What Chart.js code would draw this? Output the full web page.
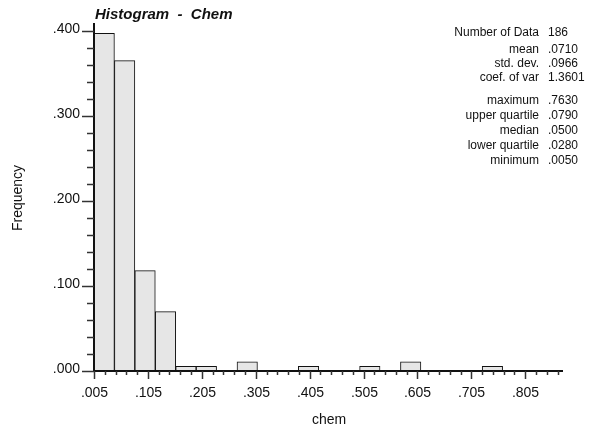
<!DOCTYPE html>
<html>
<head>
<meta charset="utf-8">
<script src="https://cdn.jsdelivr.net/npm/chart.js@4"></script>
<style>
    body { margin: 0; background: #ffffff; }
    canvas { display: block; }
</style>
</head>
<body>
<canvas id="hist" width="597" height="428"></canvas>
<script>
// histogram data: counts per bin (20 bins between min and max)
const dataMin = 0.005;
const dataMax = 0.763;
const nData = 186;
const counts = [74, 68, 22, 13, 1, 1, 0, 2, 0, 0, 1, 0, 0, 1, 0, 2, 0, 0, 0, 1];

const xTickLabels = ['.005', '.105', '.205', '.305', '.405', '.505', '.605', '.705', '.805'];
const yTickLabels = ['.000', '.100', '.200', '.300', '.400'];

const statLabels = ['Number of Data', 'mean', 'std. dev.', 'coef. of var', 'maximum', 'upper quartile', 'median', 'lower quartile', 'minimum'];
const statValues = ['186', '.0710', '.0966', '1.3601', '.7630', '.0790', '.0500', '.0280', '.0050'];

const binWidth = (dataMax - dataMin) / counts.length;
const bars = counts.map((c, i) => ({ x: dataMin + (i + 0.5) * binWidth, y: c / nData }));

const axesPlugin = {
    id: 'axesPlugin',
    afterDraw(chart) {
        const ctx = chart.ctx;
        const xs = chart.scales.x;
        const ys = chart.scales.y;
        const x0 = xs.getPixelForValue(xs.min);
        const x1 = xs.getPixelForValue(xs.max);
        const y0 = ys.getPixelForValue(0);
        const yTop = ys.getPixelForValue(ys.max);
        ctx.save();

        // axis lines
        ctx.strokeStyle = '#111';
        ctx.lineWidth = 2;
        ctx.beginPath();
        ctx.moveTo(x0, yTop);
        ctx.lineTo(x0, y0);
        ctx.moveTo(x0, y0);
        ctx.lineTo(x1, y0);
        ctx.stroke();

        // x ticks every .02, labels every .1
        ctx.strokeStyle = '#333';
        ctx.lineWidth = 1.5;
        ctx.fillStyle = '#111';
        ctx.font = '14px "Liberation Sans", Arial, sans-serif';
        ctx.textAlign = 'center';
        ctx.textBaseline = 'alphabetic';
        for (let i = 0; ; i++) {
            const v = dataMin + i * 0.02;
            if (v > xs.max + 1e-9) break;
            const px = Math.round(xs.getPixelForValue(v)) + 0.5;
            const major = i % 5 === 0;
            ctx.beginPath();
            ctx.moveTo(px, y0);
            ctx.lineTo(px, y0 + (major ? 8 : 4));
            ctx.stroke();
            if (major && xTickLabels[i / 5]) {
                ctx.fillText(xTickLabels[i / 5], px, y0 + 26);
            }
        }

        // y ticks every .02, labels every .1
        ctx.textAlign = 'right';
        for (let i = 0; i <= 20; i++) {
            const v = i * 0.02;
            const py = Math.round(ys.getPixelForValue(v)) + 0.5;
            const major = i % 5 === 0;
            ctx.beginPath();
            ctx.moveTo(x0 - (major ? 12 : 7), py);
            ctx.lineTo(x0, py);
            ctx.stroke();
            if (major) {
                ctx.fillText(yTickLabels[i / 5], x0 - 14, py + 1);
            }
        }

        // axis titles
        ctx.font = '14px "Liberation Sans", Arial, sans-serif';
        ctx.textAlign = 'center';
        ctx.textBaseline = 'middle';
        ctx.fillText('chem', 329, 420);
        ctx.save();
        ctx.translate(18, 198);
        ctx.rotate(-Math.PI / 2);
        ctx.fillText('Frequency', 0, 0);
        ctx.restore();

        // title
        ctx.font = 'italic bold 15px "Liberation Sans", Arial, sans-serif';
        ctx.textAlign = 'left';
        ctx.textBaseline = 'alphabetic';
        ctx.fillText('Histogram  -  Chem', x0 + 1, 19);

        // stats block
        ctx.font = '12px "Liberation Sans", Arial, sans-serif';
        ctx.textBaseline = 'middle';
        const rows = [33, 50, 64, 78, 101, 116, 131, 146, 161];
        statLabels.forEach((s, i) => {
            ctx.textAlign = 'right';
            ctx.fillText(s, 539, rows[i]);
            ctx.textAlign = 'left';
            ctx.fillText(statValues[i], 548, rows[i]);
        });
        ctx.restore();
    }
};

new Chart(document.getElementById('hist'), {
    type: 'bar',
    data: {
        datasets: [{
            data: bars,
            backgroundColor: '#e6e6e6',
            borderColor: '#111',
            borderWidth: 1,
            borderSkipped: false,
            barPercentage: 1,
            categoryPercentage: 1
        }]
    },
    options: {
        responsive: false,
        animation: false,
        layout: {
            padding: { left: 94, right: 34, top: 23, bottom: 57 }
        },
        scales: {
            x: { type: 'linear', min: 0.005, max: 0.875, offset: false, display: false },
            y: { type: 'linear', min: 0, max: 0.41, display: false }
        },
        plugins: {
            legend: { display: false },
            tooltip: { enabled: false }
        }
    },
    plugins: [axesPlugin]
});
</script>
</body>
</html>
